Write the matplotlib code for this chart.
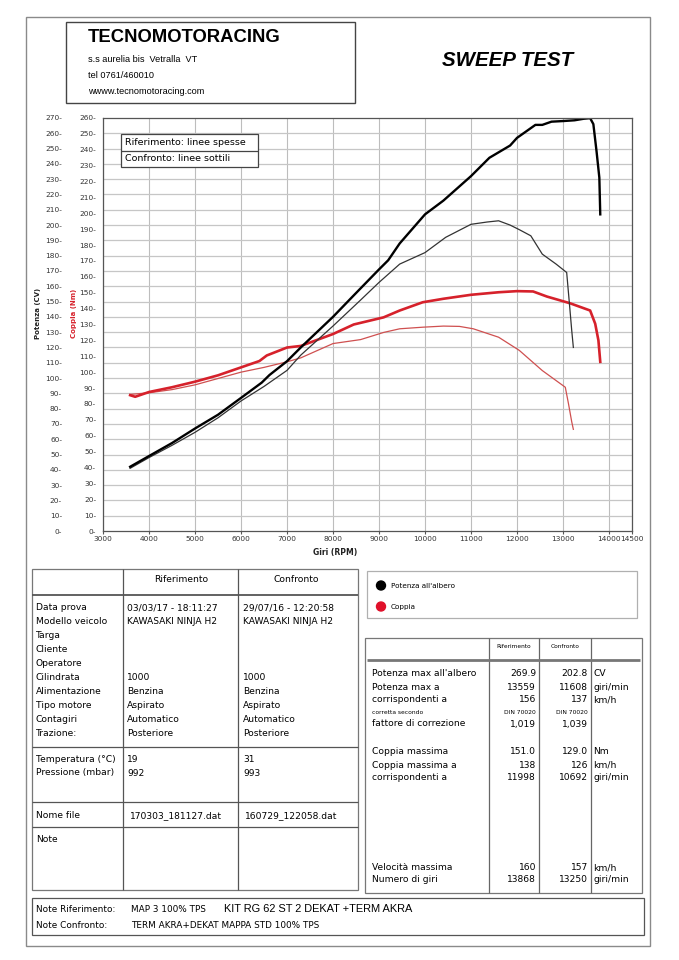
import matplotlib
matplotlib.use('Agg')
import numpy as np
import matplotlib.pyplot as plt
from matplotlib.patches import Rectangle, Circle
from matplotlib.ticker import FuncFormatter, MultipleLocator

plt.rcParams['font.family'] = ['DejaVu Sans']

W, H = 679, 960

# curve (giri, valore)
rif_pot_rpm = [3590, 4000, 4500, 5000, 5500, 6000, 6450, 6620, 7000, 7300, 8000, 8450, 9000, 9200,
               9450, 10000, 10400, 11000, 11400, 11850, 12000, 12400, 12550, 12750, 13000, 13250,
               13450, 13590, 13660, 13730, 13790, 13810]
rif_pot_cv = [42, 49, 57.5, 67, 76, 87, 97, 102, 111, 120, 140, 154, 171, 177,
              188, 207, 216, 232, 244, 252, 257, 265.5, 265.5, 267.6, 268, 268.5,
              269.5, 269.9, 266, 248, 231, 207]

conf_pot_rpm = [3590, 4000, 4500, 5000, 5500, 6000, 6500, 7000, 7300, 8000, 8600, 9000, 9450,
                10000, 10450, 11000, 11350, 11600, 11850, 12050, 12300, 12550, 12850, 13080,
                13140, 13190, 13225]
conf_pot_cv = [41, 48, 56, 64.5, 74, 85, 94.5, 105, 115, 134, 151, 162.5, 174.5,
               182, 192, 200.5, 202, 202.8, 200, 197, 193, 181, 174.5, 169,
               148.5, 131, 120]

rif_cop_rpm = [3590, 3700, 4000, 4500, 5000, 5500, 6000, 6400, 6560, 7000, 7300, 8000, 8450,
               9100, 9450, 9950, 10400, 11000, 11600, 12000, 12350, 12650, 13150, 13590,
               13700, 13770, 13810]
rif_cop_nm = [85.5, 84.5, 87.5, 90.5, 94, 98, 103, 107, 110.5, 115.5, 116.5, 124, 130,
              134.5, 138.8, 144, 146.2, 148.7, 150.3, 151, 150.8, 147.6, 143.4, 138.8,
              130.5, 120, 106.5]

conf_cop_rpm = [3590, 4000, 4500, 5000, 5500, 6000, 6500, 7000, 7300, 8000, 8600, 9100, 9450,
                9950, 10400, 10750, 11050, 11600, 12050, 12550, 13050, 13120, 13190, 13225]
conf_cop_nm = [86, 87, 89, 92, 96, 100, 103, 106.5, 109, 118, 120.5, 125, 127.3,
               128.3, 129, 128.8, 127.3, 122, 113.7, 101, 90.5, 80, 68.7, 64]

x_ticks = [3000, 4000, 5000, 6000, 7000, 8000, 9000, 10000, 11000, 12000, 13000, 14000, 14500]

# tabella sinistra
voci = ['Data prova', 'Modello veicolo', 'Targa', 'Cliente', 'Operatore', 'Cilindrata',
        'Alimentazione', 'Tipo motore', 'Contagiri', 'Trazione:']
voci_rif = ['03/03/17 - 18:11:27', 'KAWASAKI NINJA H2', '', '', '', '1000', 'Benzina',
            'Aspirato', 'Automatico', 'Posteriore']
voci_conf = ['29/07/16 - 12:20:58', 'KAWASAKI NINJA H2', '', '', '', '1000', 'Benzina',
             'Aspirato', 'Automatico', 'Posteriore']
ambiente = ['Temperatura (°C)', 'Pressione (mbar)']
ambiente_rif = ['19', '992']
ambiente_conf = ['31', '993']
file_rif = '170303_181127.dat'
file_conf = '160729_122058.dat'

# tabella destra
righe = ["Potenza max all'albero", 'Potenza max a', 'corrispondenti a', 'corretta secondo',
         'fattore di correzione', 'Coppia massima', 'Coppia massima a', 'corrispondenti a',
         'Velocità massima', 'Numero di giri']
righe_rif = ['269.9', '13559', '156', 'DIN 70020', '1,019', '151.0', '138', '11998', '160', '13868']
righe_conf = ['202.8', '11608', '137', 'DIN 70020', '1,039', '129.0', '126', '10692', '157', '13250']
unita = ['CV', 'giri/min', 'km/h', '', '', 'Nm', 'km/h', 'giri/min', 'km/h', 'giri/min']

ROSSO = '#d6212b'
ROSSO_CHIARO = '#cf5050'
GRIGIO = '#555555'


def rett(ax, x0, y0, x1, y1, colore=GRIGIO, lw=0.9, fondo=None):
    ax.add_patch(Rectangle((x0, y0), x1 - x0, y1 - y0, fill=fondo is not None,
                           facecolor=fondo, edgecolor=colore, lw=lw))


def linea(ax, x0, y0, x1, y1, colore=GRIGIO, lw=0.9):
    ax.plot([x0, x1], [y0, y1], color=colore, lw=lw, solid_capstyle='butt')


def foglio(fig, z):
    a = fig.add_axes([0, 0, 1, 1])
    a.set_xlim(0, W)
    a.set_ylim(H, 0)
    a.axis('off')
    a.set_zorder(z)
    return a


fig = plt.figure(figsize=(W / 100, H / 100), dpi=100)
fig.patch.set_facecolor('white')

# foglio in coordinate pixel
pg = foglio(fig, 0)

rett(pg, 26, 17, 650, 946, colore='#8a8a8a', lw=1.0)

# intestazione
rett(pg, 66, 22, 355, 103, colore='#444444', lw=1.0)
pg.text(88, 37, 'TECNOMOTORACING', family='Liberation Sans', weight='bold', fontsize=13.3, va='center')
pg.text(88, 60, 's.s aurelia bis  Vetralla  VT', family='Liberation Sans', fontsize=6.6, va='center')
pg.text(88, 76, 'tel 0761/460010', family='Liberation Sans', fontsize=6.6, va='center')
pg.text(88, 91, 'wwww.tecnomotoracing.com', family='Liberation Sans', fontsize=6.6, va='center')
pg.text(508, 61, 'SWEEP TEST', family='Liberation Sans', weight='bold', style='italic',
        fontsize=14.8, ha='center', va='center')

# etichette assi
pg.text(38, 313, 'Potenza (CV)', rotation=90, fontsize=5, weight='bold', ha='center', va='center',
        color='#222222')
pg.text(74, 313, 'Coppia (Nm)', rotation=90, fontsize=5, weight='bold', ha='center', va='center',
        color=ROSSO)
pg.text(335, 553, 'Giri (RPM)', fontsize=5.5, weight='bold', ha='center', va='center', color='#222222')

# grafico
x0, x1, yt, yb = 103, 632, 118, 531
ax_p = fig.add_axes([x0 / W, 1 - yb / H, (x1 - x0) / W, (yb - yt) / H])
ax_t = ax_p.twinx()
ax_t.set_zorder(1)
ax_p.set_zorder(2)
ax_p.patch.set_visible(False)

ax_p.set_xlim(3000, 14500)
ax_p.set_ylim(0, 270)
ax_t.set_ylim(0, 260)

ax_p.yaxis.set_major_locator(MultipleLocator(10))
ax_t.yaxis.set_major_locator(MultipleLocator(10))
ax_p.set_xticks(x_ticks)
ax_p.set_xticklabels([str(v) for v in x_ticks])
ax_p.yaxis.set_major_formatter(FuncFormatter(lambda v, p: '%d-' % v))
ax_t.yaxis.set_major_formatter(FuncFormatter(lambda v, p: '%d-' % v))

ax_t.yaxis.set_ticks_position('left')
ax_t.yaxis.set_label_position('left')
ax_p.tick_params(axis='y', length=0, pad=29.5, labelsize=5.3, labelcolor='#333333')
ax_t.tick_params(axis='y', length=0, pad=5, labelsize=5.3, labelcolor='#333333')
ax_p.tick_params(axis='x', length=2, pad=1.5, labelsize=5.3, labelcolor='#333333', color=GRIGIO)

# griglia (solo passi della potenza) sull'asse di sotto
ax_t.vlines(x_ticks, 0, 260, color='#bdbdbd', lw=0.8)
ax_t.hlines(np.arange(10, 270, 10), 3000, 14500, color='#c6c6c6', lw=0.9, transform=ax_p.transData)

for s in ax_t.spines.values():
    s.set_visible(False)
for s in ax_p.spines.values():
    s.set_color(GRIGIO)
    s.set_linewidth(0.9)

ax_t.plot(conf_cop_rpm, conf_cop_nm, color=ROSSO_CHIARO, lw=0.9)
ax_t.plot(rif_cop_rpm, rif_cop_nm, color=ROSSO, lw=1.9)
ax_p.plot(conf_pot_rpm, conf_pot_cv, color='#333333', lw=0.9)
ax_p.plot(rif_pot_rpm, rif_pot_cv, color='black', lw=1.7)

# legenda spessori, sopra il grafico
top = foglio(fig, 5)
rett(top, 121, 134, 258, 167, colore='#444444', lw=0.9, fondo='white')
linea(top, 121, 150.5, 258, 150.5, colore='#444444')
top.text(125, 142.5, 'Riferimento: linee spesse', fontsize=6.8, va='center')
top.text(125, 158.5, 'Confronto: linee sottili', fontsize=6.8, va='center')

# tabella sinistra
rett(pg, 32, 569, 358, 890, colore='#777777')
linea(pg, 122.7, 569, 122.7, 890)
linea(pg, 238.3, 569, 238.3, 890)
linea(pg, 32, 594.5, 358, 594.5, colore='#555555', lw=1.3)
linea(pg, 32, 746.5, 358, 746.5)
linea(pg, 32, 801.5, 358, 801.5)
linea(pg, 32, 827, 358, 827)
pg.text(181, 580, 'Riferimento', fontsize=6.6, ha='center', va='center')
pg.text(296, 580, 'Confronto', fontsize=6.6, ha='center', va='center')

ys = [608, 622, 636, 649, 663, 677, 691, 705, 720, 733]
for y, a, b, c in zip(ys, voci, voci_rif, voci_conf):
    pg.text(36, y, a, fontsize=6.6, va='center')
    pg.text(127, y, b, fontsize=6.6, va='center')
    pg.text(243, y, c, fontsize=6.6, va='center')
for y, a, b, c in zip([759, 773], ambiente, ambiente_rif, ambiente_conf):
    pg.text(36, y, a, fontsize=6.6, va='center')
    pg.text(127, y, b, fontsize=6.6, va='center')
    pg.text(243, y, c, fontsize=6.6, va='center')
pg.text(36, 815.5, 'Nome file', fontsize=6.6, va='center')
pg.text(130, 815.5, file_rif, fontsize=6.6, va='center')
pg.text(245, 815.5, file_conf, fontsize=6.6, va='center')
pg.text(36, 839, 'Note', fontsize=6.6, va='center')

# legenda colori
rett(pg, 367, 571, 637, 618, colore='#b0b0b0')
pg.add_patch(Circle((381, 585.5), 4.5, color='black'))
pg.add_patch(Circle((381, 606.5), 4.5, color='#e0102a'))
pg.text(391, 585.5, "Potenza all'albero", fontsize=5.2, va='center')
pg.text(391, 606.5, 'Coppia', fontsize=5.2, va='center')

# tabella destra
rett(pg, 365, 638, 642, 893, colore='#777777')
for xc in [489, 539.3, 590.7]:
    linea(pg, xc, 638, xc, 893, colore='#666666')
linea(pg, 367, 660, 640, 660, colore='#777777', lw=2.0)
pg.text(514, 646, 'Riferimento', fontsize=4.2, ha='center', va='center')
pg.text(565, 646, 'Confronto', fontsize=4.2, ha='center', va='center')

yr = [673, 687, 700, 712, 724, 752, 765, 777, 868, 880]
for i, y in enumerate(yr):
    fs = 4.3 if i == 3 else 6.6
    pg.text(372.5, y, righe[i], fontsize=fs, va='center')
    pg.text(536, y, righe_rif[i], fontsize=fs, ha='right', va='center')
    pg.text(588, y, righe_conf[i], fontsize=fs, ha='right', va='center')
    pg.text(593, y, unita[i], fontsize=6.6, va='center')

# note in fondo
rett(pg, 32, 898, 644, 935, colore='#555555')
pg.text(36, 910, 'Note Riferimento:', fontsize=6.4, va='center')
pg.text(36, 926, 'Note Confronto:', fontsize=6.4, va='center')
pg.text(131, 910, 'MAP 3 100% TPS', fontsize=6.4, va='center')
pg.text(224, 909.5, 'KIT RG 62 ST 2 DEKAT +TERM AKRA', family='Liberation Sans', fontsize=7.9, va='center')
pg.text(131, 926, 'TERM AKRA+DEKAT MAPPA STD 100% TPS', fontsize=6.4, va='center')

fig.savefig('out.png', dpi=100)
